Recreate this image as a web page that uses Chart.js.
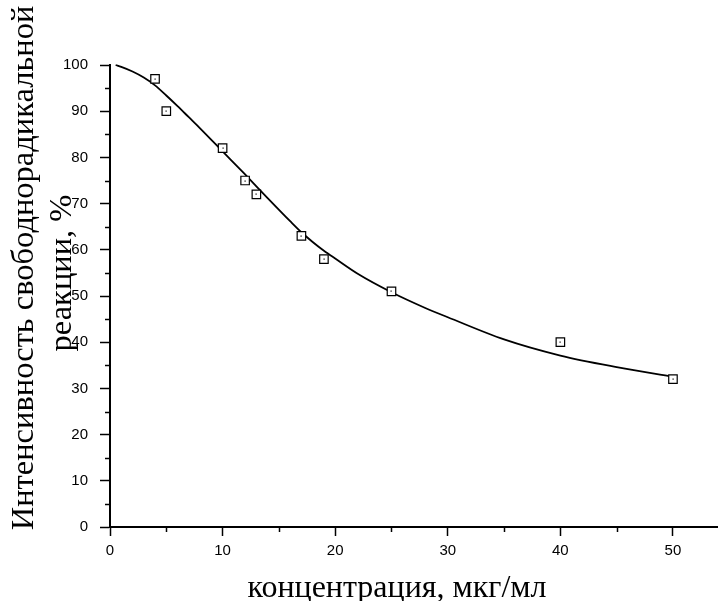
<!DOCTYPE html>
<html>
<head>
<meta charset="utf-8">
<script src="https://cdn.jsdelivr.net/npm/chart.js@4/dist/chart.umd.min.js"></script>
<style>
html,body{margin:0;padding:0;background:#fff;}
#wrap{width:718px;height:601px;position:relative;}
</style>
</head>
<body>
<div id="wrap"><canvas id="c" width="718" height="601"></canvas></div>
<script>
// Measured points
const concentrations = [4, 5, 10, 12, 13, 17, 19, 25, 40, 50];
const intensity = [97, 90, 82, 75, 72, 63, 58, 51, 40, 32];
// Fitted curve
const curveX = [0.5, 1, 2, 3, 4, 5, 6, 7, 8, 10, 12, 14, 16, 17, 18, 19, 20, 22, 25, 28, 30, 35, 40, 45, 50];
const curveY = [100, 99.6, 98.6, 97.3, 95.6, 93.4, 91.1, 88.7, 86.3, 81.3, 76.3, 71.2, 66.2, 63.8, 61.7, 59.8, 58.1, 54.8, 50.8, 47.4, 45.4, 40.6, 37.1, 34.6, 32.5];
// Axis tick labels
const xTickLabels = [0, 10, 20, 30, 40, 50];
const yTickLabels = [0, 10, 20, 30, 40, 50, 60, 70, 80, 90, 100];
const xMinorTicks = [5, 15, 25, 35, 45];
const yMinorTicks = [5, 15, 25, 35, 45, 55, 65, 75, 85, 95];
const xTitle = 'концентрация, мкг/мл';
const yTitleLines = ['Интенсивность свободнорадикальной', 'реакции, %'];

const pointsData = concentrations.map((x, i) => ({x: x, y: intensity[i]}));
const curveData = curveX.map((x, i) => ({x: x, y: curveY[i]}));

const extras = {
  id: 'extras',
  afterDraw(chart) {
    const ctx = chart.ctx;
    const xs = chart.scales.x, ys = chart.scales.y;
    ctx.save();
    ctx.strokeStyle = '#000';
    ctx.lineWidth = 1.5;
    // minor ticks
    xMinorTicks.forEach(v => {
      const px = Math.round(xs.getPixelForValue(v)) + 0.5;
      ctx.beginPath(); ctx.moveTo(px, ys.bottom); ctx.lineTo(px, ys.bottom + 5); ctx.stroke();
    });
    yMinorTicks.forEach(v => {
      const py = Math.round(ys.getPixelForValue(v)) + 0.5;
      ctx.beginPath(); ctx.moveTo(xs.left, py); ctx.lineTo(xs.left - 5, py); ctx.stroke();
    });
    // center dots of markers
    ctx.fillStyle = '#000';
    pointsData.forEach(p => {
      const px = xs.getPixelForValue(p.x), py = ys.getPixelForValue(p.y);
      ctx.fillRect(Math.round(px) - 0.5, Math.round(py) - 0.5, 1.2, 1.2);
    });
    // titles
    ctx.fillStyle = '#000';
    ctx.textAlign = 'center';
    ctx.textBaseline = 'alphabetic';
    ctx.font = '32px "Liberation Serif", "Times New Roman", serif';
    ctx.fillText(xTitle, 397, 597);
    ctx.font = '32.5px "Liberation Serif", "Times New Roman", serif';
    ctx.save();
    ctx.translate(33, 268);
    ctx.rotate(-Math.PI / 2);
    ctx.fillText(yTitleLines[0], 0, 0);
    ctx.restore();
    ctx.save();
    ctx.translate(71, 273);
    ctx.rotate(-Math.PI / 2);
    ctx.fillText(yTitleLines[1], 0, 0);
    ctx.restore();
    ctx.restore();
  }
};

new Chart(document.getElementById('c'), {
  type: 'scatter',
  data: {
    datasets: [
      {
        type: 'line',
        data: curveData,
        borderColor: '#000',
        borderWidth: 1.8,
        pointRadius: 0,
        cubicInterpolationMode: 'monotone',
        fill: false,
        clip: false,
        order: 2
      },
      {
        data: pointsData,
        pointStyle: 'rect',
        pointRadius: 6,
        pointBorderWidth: 1.2,
        pointBorderColor: '#000',
        pointBackgroundColor: '#fff',
        showLine: false,
        clip: false,
        order: 1
      }
    ]
  },
  options: {
    responsive: false,
    animation: false,
    events: [],
    layout: { autoPadding: false, padding: { top: 65, right: 0, left: 0, bottom: 0 } },
    plugins: { legend: { display: false }, tooltip: { enabled: false } },
    scales: {
      x: {
        type: 'linear',
        min: 0, max: 54,
        afterFit(s) { s.height = 74; s.paddingRight = 0; s.paddingLeft = 0; },
        border: { color: '#000', width: 2 },
        grid: { drawOnChartArea: false, drawTicks: true, tickLength: 9, tickColor: '#000', tickWidth: 1.5 },
        ticks: {
          stepSize: 10,
          includeBounds: false,
          autoSkip: false,
          maxRotation: 0,
          color: '#000',
          padding: 6,
          font: { family: '"Liberation Sans", Arial, sans-serif', size: 15 },
          callback: v => xTickLabels.includes(v) ? String(v) : ''
        }
      },
      y: {
        type: 'linear',
        min: 0, max: 100,
        afterFit(s) { s.width = 110; },
        border: { color: '#000', width: 2 },
        grid: { drawOnChartArea: false, drawTicks: true, tickLength: 10, tickColor: '#000', tickWidth: 1.5 },
        ticks: {
          stepSize: 10,
          autoSkip: false,
          color: '#000',
          padding: 12,
          font: { family: '"Liberation Sans", Arial, sans-serif', size: 15 },
          callback: v => yTickLabels.includes(v) ? String(v) : ''
        }
      }
    }
  },
  plugins: [extras]
});
</script>
</body>
</html>
